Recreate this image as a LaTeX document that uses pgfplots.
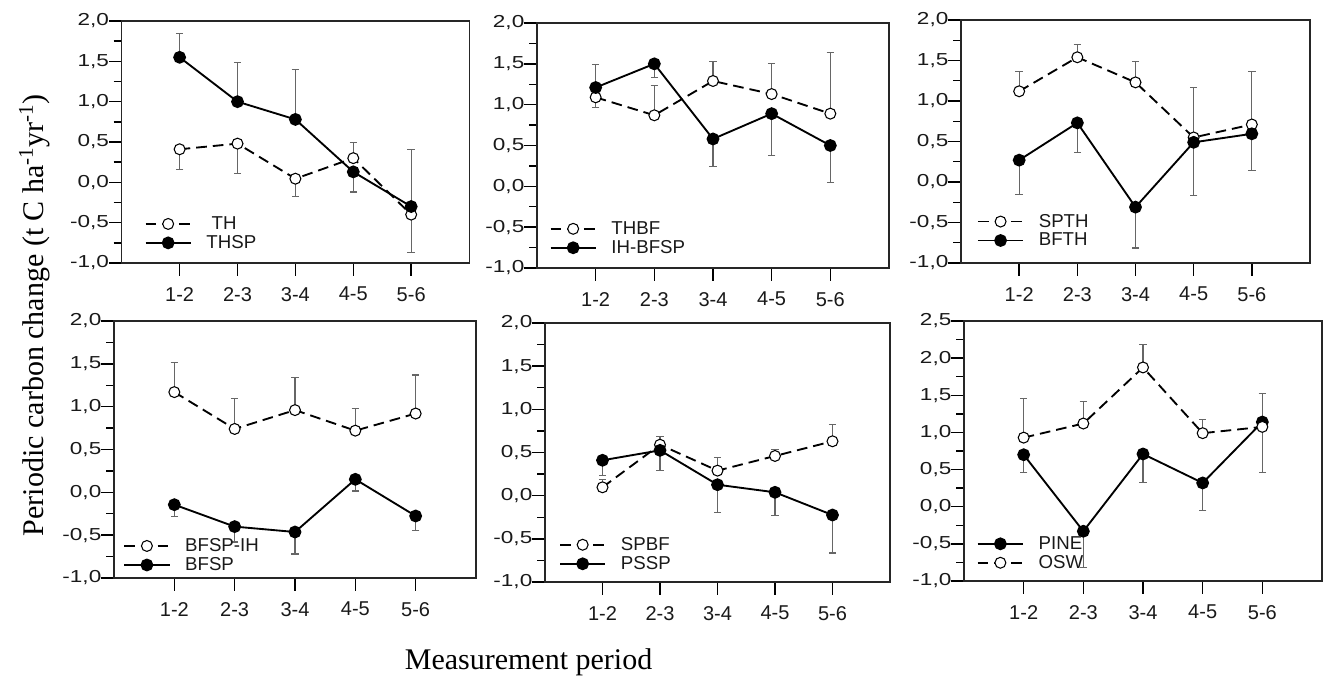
\documentclass[border=0pt]{standalone}
\usepackage{fontspec}
\setmainfont{Liberation Sans}
\newfontfamily\seriffont{Liberation Serif}
\usepackage{graphicx}
\usepackage{pgfplots}
\pgfplotsset{compat=1.18}
\newcommand\yl[1]{\scalebox{1.3}[1]{#1}}

\pgfplotsset{
  panel/.style={
    scale only axis, anchor=north west,
    xmin=0, xmax=6, xtick={1,2,3,4,5}, xticklabels={1-2,2-3,3-4,4-5,5-6},
    ymin=-1, ymax=2,
    ytick={-1,-0.5,0,0.5,1,1.5,2},
    yticklabels={\yl{-1,0},\yl{-0,5},\yl{0,0},\yl{0,5},\yl{1,0},\yl{1,5},\yl{2,0}},
    minor y tick num=1,
    tick align=outside, xtick pos=left, ytick pos=left,
    major tick length=9.5pt, minor tick length=6pt,
    every tick/.style={black, line width=1.1pt},
    axis line style={black!85, line width=0.8pt},
    yticklabel style={font=\fontsize{13}{15}\selectfont, color=black!90, xshift=3.5pt},
    xticklabel style={font=\fontsize{15}{17}\selectfont, yshift=-5pt, color=black!90},
    legend style={draw=none, fill=none, font=\fontsize{14}{16}\selectfont,
      anchor=south west, row sep=-1pt, column sep=9pt, inner sep=0pt, text=black!90},
    legend cell align=left,
    legend image code/.code={\draw[mark repeat=2,mark phase=2,##1] plot coordinates {(0pt,0pt) (17pt,0pt) (34pt,0pt)};},
    clip=false,
  },
  open/.style={black, line width=1.4pt, dash pattern=on 8pt off 4.5pt,
    mark=*, mark size=4.1pt, mark options={solid, fill=white, draw=black, line width=0.8pt},
    error bars/.cd, y dir=both, y explicit,
    error bar style={solid, black!60, line width=0.8pt},
    error mark options={black!60, line width=0.8pt, mark size=2.8pt, rotate=90}},
  filled/.style={black, line width=1.4pt, solid,
    mark=*, mark size=4.1pt, mark options={solid, fill=black, draw=black},
    error bars/.cd, y dir=both, y explicit,
    error bar style={solid, black!60, line width=0.8pt},
    error mark options={black!60, line width=0.8pt, mark size=2.8pt, rotate=90}},
}

\begin{document}
\begin{tikzpicture}
\path[use as bounding box] (0,0) rectangle (993.75pt,-507pt);

% Panel 1
\begin{axis}[panel, at={(91.3pt,-15.75pt)}, width=260.5pt, height=181.5pt,
  legend style={at={(axis description cs:0.065,0.04)}}]
\addplot[open] table[x=x,y=y,y error plus=ep,y error minus=em] {
x y ep em
1 0.41 0 0.25
2 0.48 0 0.365
3 0.045 0 0.215
4 0.30 0.19 0
5 -0.40 0 0.47
};
\addlegendentry{\ TH}
\addplot[filled] table[x=x,y=y,y error plus=ep,y error minus=em] {
x y ep em
1 1.55 0.30 0
2 1.00 0.48 0
3 0.78 0.62 0
4 0.13 0 0.25
5 -0.30 0.71 0
};
\addlegendentry{THSP}
\end{axis}

% Panel 2
\begin{axis}[panel, at={(402.75pt,-17.25pt)}, width=264pt, height=183.75pt,
  legend style={at={(axis description cs:0.035,0.04)}}]
\addplot[open] table[x=x,y=y,y error plus=ep,y error minus=em] {
x y ep em
1 1.09 0 0.13
2 0.87 0.36 0
3 1.29 0.24 0
4 1.13 0.37 0
5 0.89 0.75 0
};
\addlegendentry{THBF}
\addplot[filled] table[x=x,y=y,y error plus=ep,y error minus=em] {
x y ep em
1 1.21 0.28 0
2 1.50 0 0.17
3 0.58 0 0.335
4 0.89 0 0.515
5 0.50 0 0.455
};
\addlegendentry{IH-BFSP}
\end{axis}

% Panel 3
\begin{axis}[panel, at={(720.75pt,-15pt)}, width=261.75pt, height=182.25pt,
  legend style={at={(axis description cs:0.045,0.05)}}]
\addplot[open] table[x=x,y=y,y error plus=ep,y error minus=em] {
x y ep em
1 1.12 0.24 0
2 1.54 0.16 0
3 1.23 0.26 0
4 0.55 0.62 0
5 0.71 0.66 0
};
\addlegendentry{SPTH}
\addplot[filled] table[x=x,y=y,y error plus=ep,y error minus=em] {
x y ep em
1 0.27 0 0.43
2 0.73 0 0.37
3 -0.31 0 0.505
4 0.49 0 0.66
5 0.595 0 0.45
};
\addlegendentry{BFTH}
\end{axis}

% Panel 4
\begin{axis}[panel, at={(85.5pt,-240.75pt)}, width=271.5pt, height=192.75pt,
  legend style={at={(axis description cs:0.025,0.01)}}]
\addplot[open] table[x=x,y=y,y error plus=ep,y error minus=em] {
x y ep em
1 1.17 0.35 0
2 0.74 0.36 0
3 0.96 0.38 0
4 0.72 0.26 0
5 0.92 0.45 0
};
\addlegendentry{BFSP-IH}
\addplot[filled] table[x=x,y=y,y error plus=ep,y error minus=em] {
x y ep em
1 -0.144 0 0.14
2 -0.40 0 0.18
3 -0.463 0 0.257
4 0.152 0 0.136
5 -0.276 0 0.174
};
\addlegendentry{BFSP}
\end{axis}

% Panel 5
\begin{axis}[panel, at={(408.75pt,-242.25pt)}, width=258.75pt, height=194.25pt,
  legend style={at={(axis description cs:0.04,0.03)}}]
\addplot[open] table[x=x,y=y,y error plus=ep,y error minus=em] {
x y ep em
1 0.097 0.09 0
2 0.59 0.10 0
3 0.29 0.15 0
4 0.46 0.08 0
5 0.63 0.19 0
};
\addlegendentry{SPBF}
\addplot[filled] table[x=x,y=y,y error plus=ep,y error minus=em] {
x y ep em
1 0.41 0 0.175
2 0.525 0 0.235
3 0.127 0 0.327
4 0.039 0 0.267
5 -0.224 0 0.44
};
\addlegendentry{PSSP}
\end{axis}

% Panel 6
\begin{axis}[panel, at={(723pt,-240.75pt)}, width=268.5pt, height=195pt,
  ymax=2.5, ytick={-1,-0.5,0,0.5,1,1.5,2,2.5},
  yticklabels={\yl{-1,0},\yl{-0,5},\yl{0,0},\yl{0,5},\yl{1,0},\yl{1,5},\yl{2,0},\yl{2,5}},
  legend style={at={(axis description cs:0.035,0.03)}}]
\addplot[filled] table[x=x,y=y,y error plus=ep,y error minus=em] {
x y ep em
1 0.70 0 0.24
2 -0.33 0 0.49
3 0.71 0 0.39
4 0.32 0 0.365
5 1.14 0.39 0
};
\addlegendentry{PINE}
\addplot[open] table[x=x,y=y,y error plus=ep,y error minus=em] {
x y ep em
1 0.93 0.53 0
2 1.12 0.30 0
3 1.875 0.315 0
4 0.99 0.19 0
5 1.075 0 0.62
};
\addlegendentry{OSW}
\end{axis}

\node[rotate=90, anchor=base, font=\seriffont\fontsize{22.5}{26}\selectfont] at (32.25pt,-236.25pt)
  {Periodic carbon change (t C ha\textsuperscript{-1}yr\textsuperscript{-1})};
\node[anchor=base, font=\seriffont\fontsize{22.5}{26}\selectfont] at (396.4pt,-501.75pt)
  {Measurement period};
\end{tikzpicture}
\end{document}
